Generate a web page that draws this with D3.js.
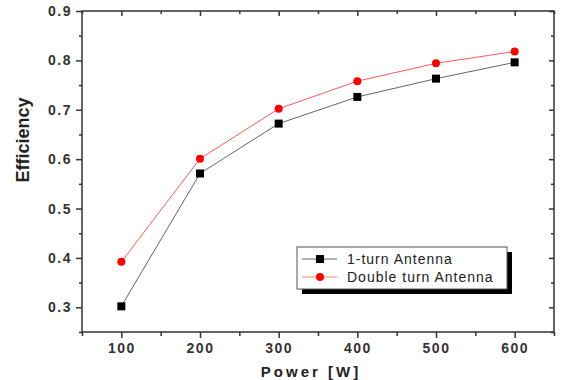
<!DOCTYPE html>
<html><head><meta charset="utf-8">
<script src="https://cdn.jsdelivr.net/npm/d3@7"></script>
<style>body{margin:0;background:#fff}svg{display:block}</style>
</head><body>
<svg id="c" width="561" height="380"></svg>
<script>
const powers = [100, 200, 300, 400, 500, 600];
const oneTurn = [0.302, 0.571, 0.672, 0.726, 0.763, 0.796];
const doubleTurn = [0.392, 0.601, 0.702, 0.758, 0.794, 0.818];
const xTicks = [100, 200, 300, 400, 500, 600];
const yTicks = [0.3, 0.4, 0.5, 0.6, 0.7, 0.8, 0.9];
const seriesNames = ["1-turn Antenna", "Double turn Antenna"];

const svg = d3.select("#c");
const L = 82, R = 554, T = 11, B = 332;
const x = d3.scaleLinear().domain([50, 650]).range([L, R]);
const y = d3.scaleLinear().domain([0.25, 0.9]).range([B, T]);
const ax = "#333";
const font = "Liberation Sans, Arial, sans-serif";

const minorX = d3.range(50, 651, 50).filter(v => v % 100 !== 0);
const minorY = d3.range(0.25, 0.91, 0.05).map(v => +v.toFixed(2)).filter(v => Math.round(v*100) % 10 !== 0);

// frame
svg.append("rect").attr("x", L).attr("y", T).attr("width", R - L).attr("height", B - T)
  .attr("fill", "none").attr("stroke", ax).attr("stroke-width", 1.5);

// bottom axis
const gB = svg.append("g").attr("transform", `translate(0,${B})`)
  .call(d3.axisBottom(x).tickValues(xTicks).tickSize(6).tickPadding(5).tickFormat(d3.format("d")));
gB.append("g").call(d3.axisBottom(x).tickValues(minorX).tickSize(4).tickFormat(""));
// left axis
const gL = svg.append("g").attr("transform", `translate(${L},0)`)
  .call(d3.axisLeft(y).tickValues(yTicks).tickSize(6).tickPadding(4).tickFormat(d3.format(".1f")));
gL.append("g").call(d3.axisLeft(y).tickValues(minorY).tickSize(3).tickFormat(""));
// top axis (inward)
const gT = svg.append("g").attr("transform", `translate(0,${T})`)
  .call(d3.axisTop(x).tickValues(xTicks).tickSize(-5).tickFormat(""));
gT.append("g").call(d3.axisTop(x).tickValues(minorX).tickSize(-3).tickFormat(""));
// right axis (inward)
const gR = svg.append("g").attr("transform", `translate(${R},0)`)
  .call(d3.axisRight(y).tickValues(yTicks).tickSize(-5).tickFormat(""));
gR.append("g").call(d3.axisRight(y).tickValues(minorY).tickSize(-3).tickFormat(""));

svg.selectAll(".domain").remove();
svg.selectAll(".tick line").attr("stroke", ax).attr("stroke-width", 1.5);
svg.selectAll(".tick text").attr("fill", "#333").attr("font-family", font)
  .attr("font-weight", "bold").attr("font-size", 14).style("letter-spacing", "1.5px");

// axis titles
svg.append("text").attr("x", 311).attr("y", 377).attr("text-anchor", "middle")
  .attr("font-family", font).attr("font-weight", "bold").attr("font-size", 15)
  .style("letter-spacing", "3px").attr("fill", "#222").text("Power [W]");
svg.append("text").attr("transform", "translate(29,140) rotate(-90)").attr("text-anchor", "middle")
  .attr("font-family", font).attr("font-weight", "bold").attr("font-size", 18)
  .attr("fill", "#222").text("Efficiency");

// series
const line = d3.line().x(d => x(d[0])).y(d => y(d[1]));
const d1 = powers.map((p, i) => [p, oneTurn[i]]);
const d2 = powers.map((p, i) => [p, doubleTurn[i]]);
svg.append("path").datum(d2).attr("d", line).attr("fill", "none").attr("stroke", "#ff5a5a").attr("stroke-width", 1);
svg.append("path").datum(d1).attr("d", line).attr("fill", "none").attr("stroke", "#666").attr("stroke-width", 1);
svg.selectAll(".sq").data(d1).enter().append("rect")
  .attr("x", d => x(d[0]) - 4).attr("y", d => y(d[1]) - 4).attr("width", 8).attr("height", 8).attr("fill", "#000");
svg.selectAll(".ci").data(d2).enter().append("circle")
  .attr("cx", d => x(d[0])).attr("cy", d => y(d[1])).attr("r", 4).attr("fill", "#ff0000");

// legend
const lx = 297, ly = 247, lw = 210, lh = 42;
svg.append("rect").attr("x", lx + 5).attr("y", ly + 5).attr("width", lw).attr("height", lh).attr("fill", "#000");
svg.append("rect").attr("x", lx).attr("y", ly).attr("width", lw).attr("height", lh)
  .attr("fill", "#fff").attr("stroke", "#555").attr("stroke-width", 1);
const rows = [{n: seriesNames[0], c: "#666", m: "sq", yy: ly + 12},
              {n: seriesNames[1], c: "#ff8080", m: "ci", yy: ly + 30}];
rows.forEach(r => {
  svg.append("line").attr("x1", lx + 5).attr("x2", lx + 40).attr("y1", r.yy).attr("y2", r.yy)
    .attr("stroke", r.c).attr("stroke-width", 1);
  if (r.m === "sq") svg.append("rect").attr("x", lx + 19).attr("y", r.yy - 4).attr("width", 8).attr("height", 8).attr("fill", "#000");
  else svg.append("circle").attr("cx", lx + 23).attr("cy", r.yy).attr("r", 4).attr("fill", "#ff0000");
  svg.append("text").attr("x", lx + 50).attr("y", r.yy + 5).attr("font-family", font)
    .attr("font-size", 14).style("letter-spacing", "1px").attr("fill", "#222").text(r.n);
});
</script>
</body></html>
